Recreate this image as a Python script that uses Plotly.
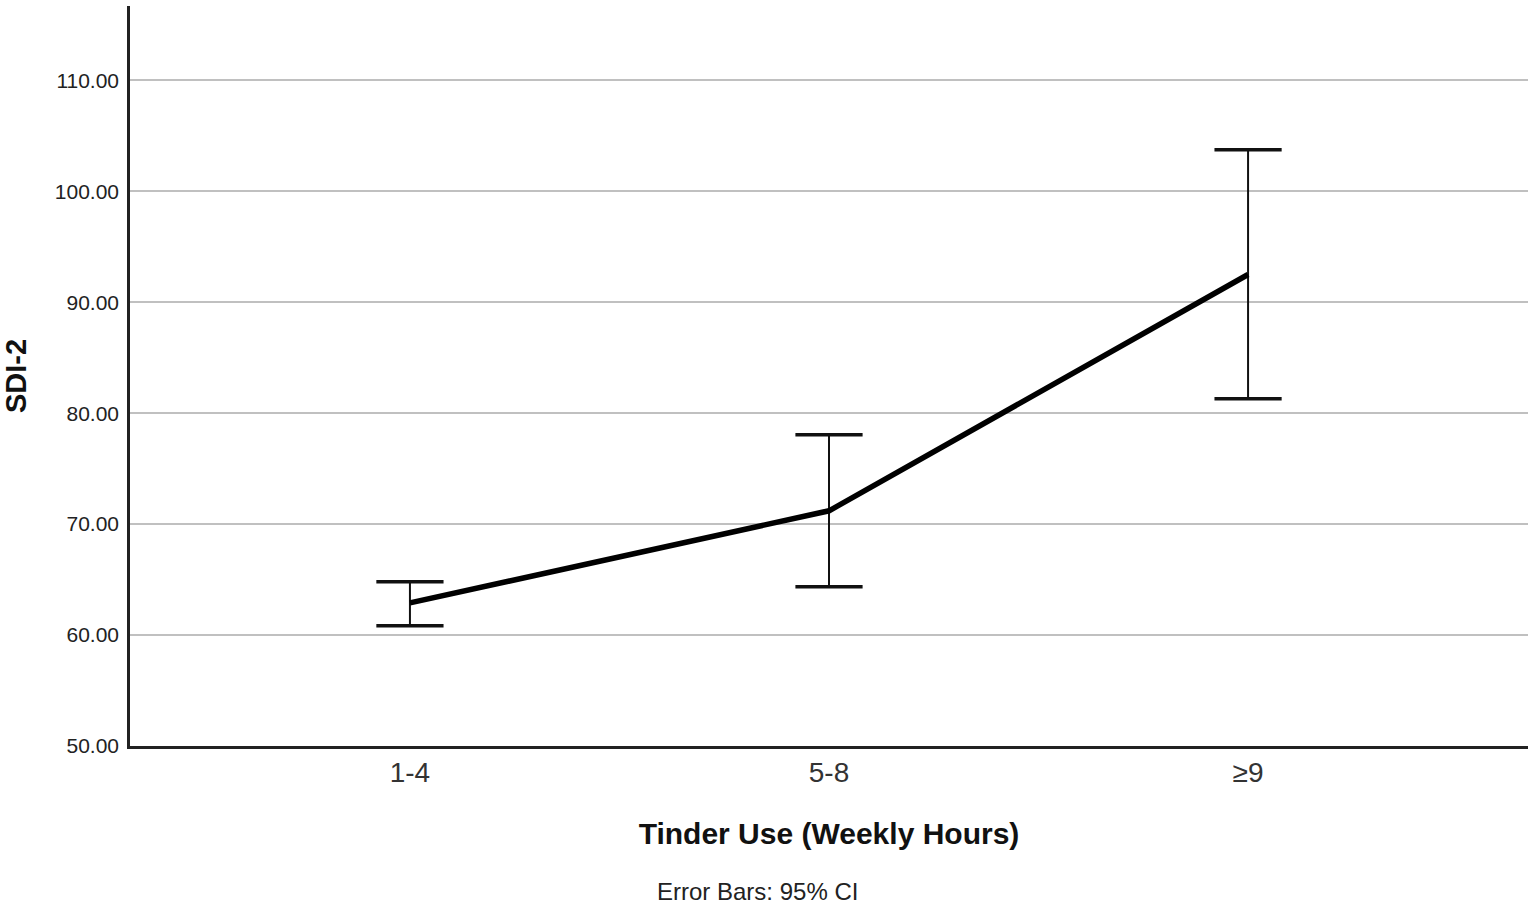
import plotly.graph_objects as go

categories = ["1-4", "5-8", "≥9"]
means = [62.9, 71.2, 92.5]
ci_upper = [64.8, 78.05, 103.75]
ci_lower = [60.85, 64.35, 81.3]
y_ticks = [50, 60, 70, 80, 90, 100, 110]

x_idx = list(range(len(categories)))
err_plus = [u - m for u, m in zip(ci_upper, means)]
err_minus = [m - l for m, l in zip(means, ci_lower)]

FONT = "Liberation Sans, Arial, sans-serif"

fig = go.Figure()
# vertical error bar stems
fig.add_trace(go.Scatter(
    x=x_idx, y=means, mode="none",
    error_y=dict(type="data", symmetric=False, array=err_plus, arrayminus=err_minus,
                 color="#111111", thickness=2, width=0),
    showlegend=False, hoverinfo="skip"))
# caps
fig.add_trace(go.Scatter(
    x=x_idx + x_idx, y=ci_upper + ci_lower, mode="markers",
    marker=dict(symbol="line-ew", size=48, line=dict(width=3.5, color="#111111")),
    showlegend=False, hoverinfo="skip"))
# mean line
fig.add_trace(go.Scatter(
    x=x_idx, y=means, mode="lines",
    line=dict(color="#000000", width=5.5),
    showlegend=False))

fig.update_layout(
    width=1535, height=907,
    margin=dict(l=130, r=7, t=6, b=161),
    paper_bgcolor="white", plot_bgcolor="white",
    font=dict(family=FONT, color="#222222"),
    xaxis=dict(
        range=[-0.668, 2.668], tickvals=x_idx, ticktext=categories,
        showgrid=False, zeroline=False,
        showline=True, linecolor="#222222", linewidth=2.5,
        ticks="", tickfont=dict(size=28, color="#333333"),
        title=dict(text="<b>Tinder Use (Weekly Hours)</b>", font=dict(size=30, color="#111111"), standoff=36),
    ),
    yaxis=dict(
        range=[50, 116.7], tickvals=y_ticks, ticktext=[f"{v:.2f}" for v in y_ticks],
        showgrid=True, gridcolor="#c0c0c0", gridwidth=2,
        zeroline=False, showline=True, linecolor="#222222", linewidth=2.5,
        ticks="", ticklabelstandoff=4, tickfont=dict(size=21, color="#222222"),
        title=dict(text="<b>SDI-2</b>", font=dict(size=29, color="#111111"), standoff=22),
    ),
    annotations=[dict(
        text="Error Bars: 95% CI", xref="paper", yref="paper",
        x=(757 - 130) / 1398, y=-(891 - 746) / 740, xanchor="center", yanchor="middle",
        showarrow=False, font=dict(size=24, color="#222222"))],
)

fig.write_html("out.html", config={"displayModeBar": False},
               post_script="document.body.style.margin='0';")
